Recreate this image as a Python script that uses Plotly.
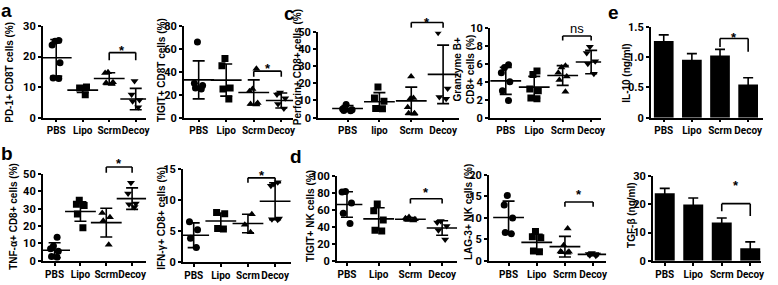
import plotly.graph_objects as go

W, H = 778, 285
FONT = "Liberation Sans"
TICKFONT = "Roboto, Liberation Sans"

# ---------------- data ----------------
groups = ["PBS", "Lipo", "Scrm", "Decoy"]
groups_c = ["PBS", "lipo", "Scrm", "Decoy"]
symbols = ["circle", "square", "triangle-up", "triangle-down"]

# a: PD-1+ CD8T cells (%)
pd1_points = [[25.3, 25.0, 23.8, 18.0, 12.8, 13.0], [10.0, 9.7, 7.5],
              [14.9, 14.6, 11.6, 11.4, 11.0], [12.0, 7.6, 5.8, 5.4, 3.4]]
pd1_mean = [19.6, 9.0, 12.8, 6.1]
pd1_sd = [6.0, 0.75, 1.9, 3.5]

# a: TIGIT+ CD8T cells (%)
tigit_points = [[66, 30, 28, 26, 25], [51.7, 45.3, 25.8, 25.0, 16.4],
                [42.8, 25, 23, 12.8, 11.4, 12], [22, 20.3, 17, 12, 8]]
tigit_mean = [33, 32.8, 22, 15]
tigit_sd = [16.6, 14, 11, 6.5]

# c: Perforin+ CD8+ cells (%)
perf_points = [[7.6, 5.0, 4.6, 4.0, 4.2], [17.8, 11.5, 9.5, 5.4, 5.2],
               [23.9, 11.5, 11.0, 6.0, 2.5, 2.3, 2.6], [49.5, 17, 12, 11]]
perf_mean = [5.3, 9.3, 9.8, 25.2]
perf_sd = [1.7, 5.3, 8.0, 17.0]

# c: Granzyme B+ CD8+ cells (%)
gzm_points = [[5.9, 5.6, 5.0, 4.0, 3.0, 1.9], [5.2, 4.8, 3.2, 3.0, 2.1, 2.2],
              [5.8, 5.6, 5.0, 4.6, 4.2, 2.9], [7.9, 7.2, 6.3, 6.0, 4.9]]
gzm_mean = [4.1, 3.4, 4.7, 6.2]
gzm_sd = [1.5, 1.2, 1.1, 1.3]

# b: TNF-a+ CD8+ cells (%)
tnf_points = [[13.5, 8.5, 7.0, 5.5, 2.5, 2.0], [34.8, 32.5, 31.8, 27.0, 19.0],
              [27.5, 25.1, 23.0, 9.2], [45.0, 38.8, 33.0, 32.5, 31.0]]
tnf_mean = [6.1, 28.4, 22.0, 35.8]
tnf_sd = [4.3, 5.6, 8.3, 6.2]

# b: IFN-g+ CD8+ cells (%)
ifn_points = [[6.5, 5.2, 3.8, 2.3], [8.0, 7.8, 5.4, 5.3],
              [7.7, 6.0, 4.8], [12.9, 12.6, 12.3, 7.0, 6.9, 6.8]]
ifn_mean = [4.3, 6.6, 6.2, 9.8]
ifn_sd = [2.0, 1.3, 1.5, 3.0]

# d: TIGIT+ NK cells (%)
nkt_points = [[81.5, 81.0, 68, 56, 44], [67, 59, 48, 36, 35],
              [51.5, 50.0, 49.0, 48.5, 47.5], [47, 45, 41, 36, 25]]
nkt_mean = [66.3, 49.4, 49.0, 38.6]
nkt_sd = [15, 13, 2, 8.5]

# d: LAG-3+ NK cells (%)
lag_points = [[15.2, 13.0, 10.0, 6.6, 6.3], [6.8, 5.6, 5.4, 2.3, 2.1],
              [7.5, 3.6, 2.2, 2.0, 1.9, 2.1], [1.8, 1.5, 1.3, 1.2, 1.6]]
lag_mean = [10.1, 4.3, 3.3, 1.5]
lag_sd = [3.8, 1.9, 2.4, 0.3]

# e: cytokines (bars)
il10_mean = [1.27, 0.96, 1.03, 0.55]
il10_sd = [0.10, 0.10, 0.10, 0.11]
tgf_mean = [23.9, 19.9, 13.5, 4.4]
tgf_sd = [1.7, 2.3, 1.6, 2.3]

# significance brackets: (bar level, left leg end, right leg end, label level)
pd1_sig = (21.3, 18.8, 18.8, 23.0)
tigit_sig = (40.6, 35.8, 35.8, 45.3)
perf_sig = (55.4, 52.4, 52.4, 57.0)
gzm_sig = (9.1, 8.6, 8.6, 9.9)
il10_sig = (1.31, 1.17, 1.09, 1.37)
tnf_sig = (54.0, 50.7, 50.7, 57.7)
ifn_sig = (13.6, 12.8, 12.8, 14.5)
nkt_sig = (73, 67.4, 67.4, 84.3)
lag_sig = (13.7, 12.6, 12.6, 16.0)
tgf_sig = (20.2, 17.5, 15.8, 27.6)

# ---------------- layout of panels ----------------
panels = [
    dict(cats=groups, pts=pd1_points, mean=pd1_mean, sd=pd1_sd, kind="dot",
         px=(43, 147, 21, 117), ymax=30, ticks=[0, 10, 20, 30], xr=(-0.51, 3.39),
         title="PD-1+ CD8T cells (%)", tx=10, ty=69, sig=pd1_sig, sigtext="*"),
    dict(cats=groups, pts=tigit_points, mean=tigit_mean, sd=tigit_sd, kind="dot",
         px=(185, 295, 21, 117), ymax=80, ticks=[0, 20, 40, 60, 80], xr=(-0.54, 3.43),
         title="TIGIT+ CD8T cells (%)", tx=163, ty=67, sig=tigit_sig, sigtext="*"),
    dict(cats=groups_c, pts=perf_points, mean=perf_mean, sd=perf_sd, kind="dot",
         px=(320, 462, 27, 117), ymax=50, ticks=[0, 10, 20, 30, 40, 50], xr=(-0.93, 3.5),
         title="Perforin+ CD8+ cells (%)", tx=299, ty=64, sig=perf_sig, sigtext="*"),
    dict(cats=groups, pts=gzm_points, mean=gzm_mean, sd=gzm_sd, kind="dot",
         px=(493, 605, 23, 117), ymax=10, ticks=[0, 2, 4, 6, 8, 10], xr=(-0.56, 3.35),
         title="Granzyme B+<br>CD8+ cells (%)", tx=467, ty=66, sig=gzm_sig, sigtext="ns"),
    dict(cats=groups, mean=il10_mean, sd=il10_sd, kind="bar",
         px=(655, 768, 22, 117), ymax=1.5, ticks=[0, 0.5, 1.0, 1.5],
         ticktext=["0", "0.5", "1.0", "1.5"], xr=(-0.46, 3.53),
         title="IL-10 (ng/ml)", tx=631, ty=70, sig=il10_sig, sigtext="*"),
    dict(cats=groups, pts=tnf_points, mean=tnf_mean, sd=tnf_sd, kind="dot",
         px=(43, 147, 176, 267), ymax=50, ticks=[0, 10, 20, 30, 40, 50], xr=(-0.46, 3.54),
         title="TNF-α+ CD8+ cells (%)", tx=14, ty=220, sig=tnf_sig, sigtext="*"),
    dict(cats=groups, pts=ifn_points, mean=ifn_mean, sd=ifn_sd, kind="dot",
         px=(184, 293, 171, 268), ymax=15, ticks=[0, 5, 10, 15], xr=(-0.4, 3.59),
         title="IFN-γ+ CD8+ cells (%)", tx=163, ty=222, sig=ifn_sig, sigtext="*"),
    dict(cats=groups, pts=nkt_points, mean=nkt_mean, sd=nkt_sd, kind="dot",
         px=(339, 460, 178, 267), ymax=100, ticks=[0, 20, 40, 60, 80, 100], xr=(-0.32, 3.47),
         title="TIGIT+ NK cells (%)", tx=313, ty=220, sig=nkt_sig, sigtext="*"),
    dict(cats=groups, pts=lag_points, mean=lag_mean, sd=lag_sd, kind="dot",
         px=(492, 610, 177, 267), ymax=20, ticks=[0, 5, 10, 15, 20], xr=(-0.7, 3.46),
         title="LAG-3+ NK cells (%)", tx=471, ty=216, sig=lag_sig, sigtext="*"),
    dict(cats=groups, mean=tgf_mean, sd=tgf_sd, kind="bar",
         px=(657, 766, 178, 267), ymax=30, ticks=[0, 10, 20, 30], xr=(-0.42, 3.38),
         title="TGF-β (ng/ml)", tx=635, ty=219, sig=tgf_sig, sigtext="*"),
]

letters = [("a", 7, 5), ("c", 291, 8), ("e", 617, 7), ("b", 7, 155), ("d", 298, 158)]

BOLD = dict(family=FONT, color="black", weight="bold")
TBOLD = dict(family=TICKFONT, color="black", weight="bold")
fig = go.Figure()
layout = dict(width=W, height=H, autosize=False, margin=dict(l=0, r=0, t=0, b=0),
              paper_bgcolor="white", plot_bgcolor="white", showlegend=False,
              boxmode="overlay", boxgap=0.3)
annotations, shapes = [], []


def ypaper(p, v):
    xl, xr, yt, yb = p["px"]
    return 1 - (yb - (v / p["ymax"]) * (yb - yt)) / H


for i, p in enumerate(panels):
    n = i + 1
    xa, ya = f"x{n}", f"y{n}"
    xl, xr, yt, yb = p["px"]
    cats = p["cats"]
    if p["kind"] == "dot":
        for g, (cat, sym) in enumerate(zip(cats, symbols)):
            vals = p["pts"][g]
            fig.add_trace(go.Box(
                x=[cat] * len(vals), y=vals, xaxis=xa, yaxis=ya,
                boxpoints="all", jitter=0.75, pointpos=0,
                marker=dict(symbol=sym, size=7, color="black"),
                fillcolor="rgba(0,0,0,0)", line=dict(width=0, color="rgba(0,0,0,0)"),
                hoverinfo="skip", showlegend=False))
        fig.add_trace(go.Scatter(
            x=cats, y=p["mean"], xaxis=xa, yaxis=ya, mode="markers",
            marker=dict(symbol="line-ew", size=22, color="black",
                        line=dict(width=1.6, color="black")),
            error_y=dict(type="data", array=p["sd"], width=6, thickness=1.6, color="black"),
            hoverinfo="skip", showlegend=False))
    else:
        fig.add_trace(go.Bar(
            x=cats, y=p["mean"], xaxis=xa, yaxis=ya, width=0.7,
            marker=dict(color="black", line=dict(width=0)),
            error_y=dict(type="data", array=p["sd"], width=5, thickness=1.6, color="black"),
            hoverinfo="skip", showlegend=False))

    axkey = "" if n == 1 else str(n)
    layout["xaxis" + axkey] = dict(
        domain=[xl / W, xr / W], anchor=ya, type="category",
        categoryorder="array", categoryarray=cats, range=list(p["xr"]),
        showline=True, linecolor="black", linewidth=1.6,
        ticks="outside", ticklen=3, tickwidth=1.5, tickcolor="black", tickangle=0,
        tickfont=dict(size=10, **TBOLD), showgrid=False, zeroline=False, fixedrange=True)
    ydict = dict(
        domain=[1 - yb / H, 1 - yt / H], anchor=xa, range=[0, p["ymax"]],
        tickmode="array", tickvals=p["ticks"],
        showline=True, linecolor="black", linewidth=1.6,
        ticks="outside", ticklen=3, tickwidth=1.5, tickcolor="black",
        tickfont=dict(size=11, **TBOLD), showgrid=False, zeroline=False, fixedrange=True)
    if "ticktext" in p:
        ydict["ticktext"] = p["ticktext"]
    layout["yaxis" + axkey] = ydict

    # axis title
    annotations.append(dict(
        text=p["title"], xref="paper", yref="paper", x=p["tx"] / W, y=1 - p["ty"] / H,
        xanchor="center", yanchor="middle", textangle=-90, showarrow=False,
        font=dict(size=10, **BOLD)))

    # significance bracket
    bar_v, leg0, leg1, lab_v = p["sig"]
    yb_p = ypaper(p, bar_v)
    for (x0, x1, y0, y1) in [(2, 2, ypaper(p, leg0), yb_p), (2, 3, yb_p, yb_p),
                             (3, 3, yb_p, ypaper(p, leg1))]:
        shapes.append(dict(type="line", xref=xa, yref="paper", x0=x0, x1=x1, y0=y0, y1=y1,
                           line=dict(color="black", width=1.6)))
    if p["sigtext"] == "*":
        annotations.append(dict(
            text="*", xref=xa, yref="paper", x=2.5, y=ypaper(p, lab_v) - 3 / H,
            xanchor="center", yanchor="middle", showarrow=False,
            font=dict(size=13, **BOLD)))
    else:
        annotations.append(dict(
            text=p["sigtext"], xref=xa, yref="paper", x=2.5, y=ypaper(p, lab_v),
            xanchor="center", yanchor="middle", showarrow=False,
            font=dict(family=FONT, size=13, color="black")))

for (t, x, y) in letters:
    annotations.append(dict(text=t, xref="paper", yref="paper", x=x / W, y=1 - y / H,
                            xanchor="center", yanchor="middle", showarrow=False,
                            font=dict(size=19, **BOLD)))

layout["annotations"] = annotations
layout["shapes"] = shapes
fig.update_layout(**layout)
fig.write_html("out.html", config={"displayModeBar": False},
               post_script="document.body.style.margin='0';document.body.style.overflow='hidden';")
